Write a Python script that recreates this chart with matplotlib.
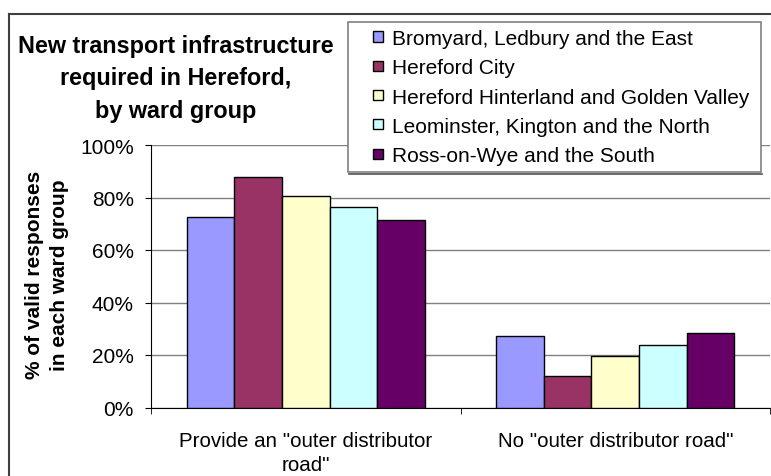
import matplotlib.pyplot as plt
import numpy as np
from matplotlib.patches import Rectangle
from matplotlib.lines import Line2D

# Données
categories = ['Provide an "outer distributor\nroad"', 'No "outer distributor road"']
groupes = ['Bromyard, Ledbury and the East', 'Hereford City',
           'Hereford Hinterland and Golden Valley',
           'Leominster, Kington and the North', 'Ross-on-Wye and the South']
bromyard = [72.6, 27.4]
hereford_city = [88.0, 12.0]
hinterland = [80.5, 19.5]
leominster = [76.3, 23.7]
ross = [71.6, 28.4]
yticks = [0, 20, 40, 60, 80, 100]
ytick_labels = ['0%', '20%', '40%', '60%', '80%', '100%']

series = [bromyard, hereford_city, hinterland, leominster, ross]
couleurs = ['#9999FF', '#993366', '#FFFFCC', '#CCFFFF', '#660066']

plt.rcParams['font.family'] = ['Liberation Sans', 'DejaVu Sans']

W, H = 771, 477
fig = plt.figure(figsize=(W / 100, H / 100), dpi=100)

# Cadre du graphique (bord gauche et haut)
fig.add_artist(Line2D([8.5 / W, 8.5 / W], [0, 1 - 15 / H], color='#404040', lw=1.5))
fig.add_artist(Line2D([8.5 / W, 1], [1 - 15 / H, 1 - 15 / H], color='#404040', lw=1.5))

ax = fig.add_axes([151 / W, 1 - 408.5 / H, (770 - 151) / W, 262.5 / H])

x = np.arange(len(categories))
largeur = 1 / 6.5
for i, (vals, c) in enumerate(zip(series, couleurs)):
    ax.bar(x + (i - 2) * largeur, vals, largeur, color=c, edgecolor='black',
           linewidth=1, zorder=3, label=groupes[i])

ax.set_xlim(-0.5, 1.5)
ax.set_ylim(0, 100)
ax.set_yticks(yticks)
ax.set_yticklabels(ytick_labels, fontsize=15)
ax.yaxis.grid(True, color='#808080', linewidth=1)
ax.set_axisbelow(True)

ax.set_xticks(x)
ax.set_xticklabels(categories, fontsize=14.8, linespacing=1.3)
ax.tick_params(axis='x', length=0, pad=17)
ax.set_xticks([-0.5, 0.5, 1.5], minor=True)
ax.tick_params(axis='x', which='minor', length=4.5, direction='out', color='black')
ax.tick_params(axis='y', length=4.5, direction='out', color='black', pad=8)

for s in ['top', 'right']:
    ax.spines[s].set_visible(False)
ax.spines['left'].set_color('black')
ax.spines['bottom'].set_color('black')

# Titre
titre = ['New transport infrastructure', 'required in Hereford,', 'by ward group']
for k, ligne in enumerate(titre):
    fig.text(176 / W, 1 - (53 + 32.5 * k) / H, ligne, ha='center', va='baseline',
             fontsize=16.8, fontweight='bold')

# Titre de l'axe Y
fig.text(47 / W, 1 - 275 / H, '% of valid responses\nin each ward group',
         rotation=90, ha='center', va='center', fontsize=15,
         fontweight='bold', linespacing=1.35)

# Légende
fig.add_artist(Rectangle((348 / W, 1 - 173 / H), (761 - 348) / W, 150 / H,
                         facecolor='white', edgecolor='#808080', lw=1.2,
                         transform=fig.transFigure, zorder=5))
fig.add_artist(Line2D([349 / W, 762 / W], [1 - 174.5 / H, 1 - 174.5 / H],
                      color='#505050', lw=1.2, zorder=5))
for i, (nom, c) in enumerate(zip(groupes, couleurs)):
    yc = 1 - (37.5 + 29.3 * i) / H
    fig.add_artist(Rectangle((373 / W, yc - 5 / H), 10 / W, 10 / H,
                             facecolor=c, edgecolor='black', lw=1,
                             transform=fig.transFigure, zorder=6))
    fig.text(392 / W, yc, nom, ha='left', va='center_baseline', fontsize=15, zorder=7)

fig.savefig('out.png', dpi=100)
